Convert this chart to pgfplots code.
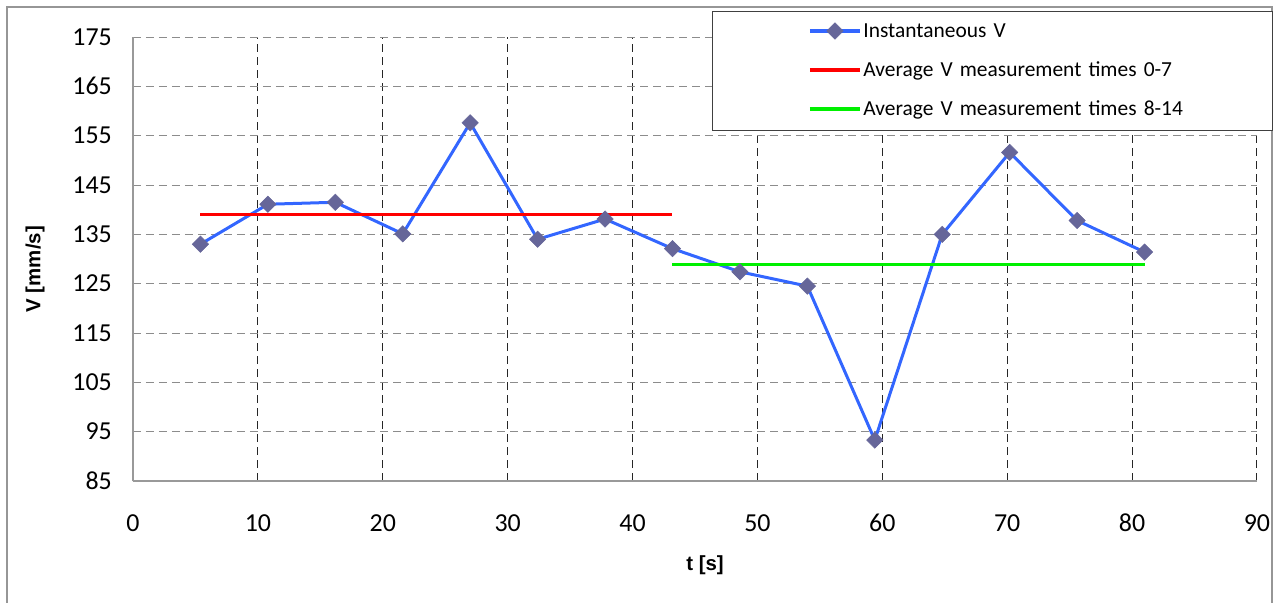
\documentclass[border=0pt]{standalone}
\usepackage{pgfplots}
\pgfplotsset{compat=1.18}
\usepackage{fontspec}
\setmainfont{Carlito}
\newfontfamily\labelfont{Liberation Sans}
\definecolor{vblue}{RGB}{51,102,255}
\definecolor{vmark}{RGB}{102,102,153}
\definecolor{vred}{RGB}{255,0,0}
\definecolor{vgreen}{RGB}{0,240,0}
\definecolor{framegray}{RGB}{150,150,150}
\begin{document}
\begin{tikzpicture}
\useasboundingbox (-133bp,-122bp) rectangle (1146bp,481bp);
\draw[framegray, line width=1.2bp] (-126bp,-130bp) -- (-126bp,474bp) -- (1139bp,474bp) -- (1139bp,-130bp);
\begin{axis}[
  at={(0,0)}, anchor=south west,
  scale only axis, width=1124bp, height=444bp,
  xmin=0, xmax=90, ymin=85, ymax=175,
  xtick={0,10,...,90}, ytick={85,95,...,175},
  axis x line*=bottom, axis y line*=left,
  axis line style={draw=black!40, line width=1.5bp, -},
  major tick length=0pt,
  grid=major,
  x grid style={black!85, line width=1bp, dash pattern=on 8bp off 5bp},
  y grid style={black!45, line width=1bp, dash pattern=on 8bp off 5bp},
  tick label style={font=\fontsize{26}{26}\selectfont},
  /pgf/number format/assume math mode=true,
  xticklabel style={anchor=center, inner sep=0pt, yshift=-42bp},
  yticklabel style={anchor=east, inner sep=0pt, xshift=-21bp},
  xlabel={t [s]}, ylabel={V [mm/s]},
  xlabel style={font=\labelfont\bfseries\fontsize{20.5}{21}\selectfont, at={(axis description cs:0.509,-0.1892)}, anchor=center},
  ylabel style={font=\labelfont\bfseries\fontsize{20.5}{21}\selectfont, at={(axis description cs:-0.0872,0.477)}, anchor=center},
  legend style={at={(axis description cs:1.01423,1.05856)}, anchor=north east,
    draw=black!75, line width=1bp, fill=white, inner xsep=0bp, inner ysep=11bp, row sep=20bp,
    font=\fontsize{21.5}{22}\selectfont,
    nodes={text width=407bp, inner xsep=2bp, inner ysep=0pt, text height=15bp, text depth=4bp, align=left}},
  legend cell align=left,
  legend image code/.code={\path (-96bp,0bp);
    \draw[mark repeat=2, mark phase=2, #1] plot coordinates {(0bp,1bp) (25bp,1bp) (50bp,1bp)};},
]
\addplot[vblue, line width=3bp, mark=square*, mark size=5.8bp,
  mark options={rotate=45, fill=vmark, draw=vmark, line width=0.5bp}] coordinates {
  (5.4,133.0) (10.8,141.1) (16.2,141.5) (21.6,135.1) (27.0,157.6)
  (32.4,134.0) (37.8,138.1) (43.2,132.1) (48.6,127.4) (54.0,124.5)
  (59.4,93.3) (64.8,135.0) (70.2,151.6) (75.6,137.8) (81.0,131.4)};
\addlegendentry{Instantaneous V}
\addplot[vred, line width=3bp] coordinates {(5.4,139.0) (43.2,139.0)};
\addlegendentry{Average V measurement times 0-7}
\addplot[vgreen, line width=3bp] coordinates {(43.2,128.9) (81.0,128.9)};
\addlegendentry{Average V measurement times 8-14}
\end{axis}
\end{tikzpicture}
\end{document}
